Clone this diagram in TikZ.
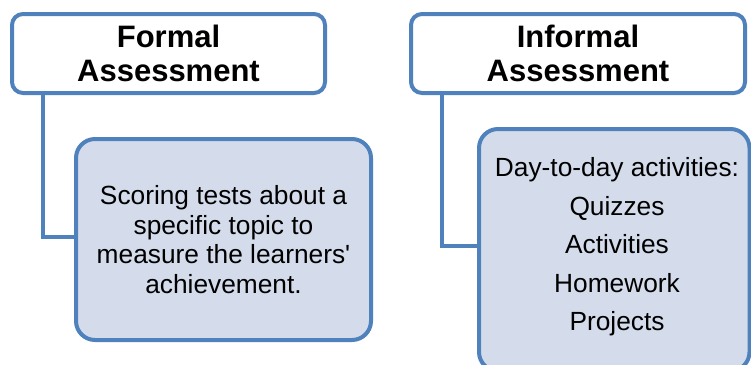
\documentclass[tikz,border=0pt]{standalone}
\usepackage{fontspec}
\setmainfont{Liberation Sans}
\definecolor{frameblue}{HTML}{4F81BD}
\definecolor{paleblue}{HTML}{D4DCEB}
\begin{document}
\begin{tikzpicture}[x=1pt,y=-1pt,
  headbox/.style={draw=frameblue, line width=4pt, fill=white, rounded corners=11pt,
    minimum width=313pt, minimum height=79pt, inner sep=0pt, align=center,
    font=\fontsize{31}{34}\selectfont\bfseries},
  itembox/.style={draw=frameblue, line width=4pt, fill=paleblue, rounded corners=19pt,
    inner sep=0pt, align=center},
  link/.style={draw=frameblue, line width=4pt}]
\useasboundingbox (0,0) rectangle (751,364);
\clip (0,0) rectangle (751,364);

% Formal branch
\node[headbox] (formal) at (168.5,53.5) {Formal\\Assessment};
\node[itembox, minimum width=295pt, minimum height=201pt,
      font=\fontsize{26.3}{29.5}\selectfont] (formalitem) at (223.5,239.5)
  {Scoring tests about a\\specific topic to\\measure the learners\textquotesingle\\achievement.};
\coordinate (fbend) at (43,237);
\draw[link] (formal.south -| fbend) -- (fbend) -- (formalitem.west |- fbend);

% Informal branch (its item box runs past the lower edge)
\node[headbox, minimum width=334pt] (informal) at (578,53.5) {Informal\\Assessment};
\node[itembox, minimum width=270.5pt, minimum height=242pt] (informalitem) at (614.25,250) {};
\node[font=\fontsize{26.3}{38.5}\selectfont, align=center, inner sep=0pt] (informaltext)
  at (617,247) {Day-to-day activities:\\Quizzes\\Activities\\Homework\\Projects};
\coordinate (ibend) at (442,246);
\draw[link] (informal.south -| ibend) -- (ibend) -- (informalitem.west |- ibend);
\end{tikzpicture}
\end{document}
